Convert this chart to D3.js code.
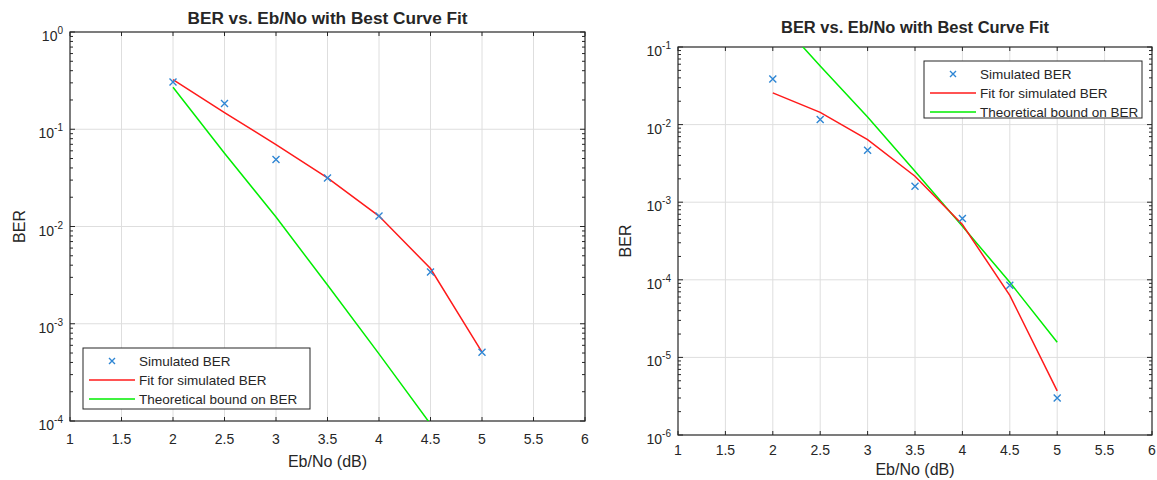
<!DOCTYPE html>
<html>
<head>
<meta charset="utf-8">
<script src="https://cdn.jsdelivr.net/npm/d3@7"></script>
<style>
  body { margin: 0; background: #fff; }
  svg text { font-family: "Liberation Sans", Arial, sans-serif; fill: #262626; }
</style>
</head>
<body>
<div id="chart"></div>
<script>
// data
var ebno = [2, 2.5, 3, 3.5, 4, 4.5, 5]
var xTicks = [1, 1.5, 2, 2.5, 3, 3.5, 4, 4.5, 5, 5.5, 6]

var leftSim = [0.306, 0.184, 0.0488, 0.0316, 0.0128, 0.0034, 0.00051]
var leftFit = [0.324, 0.148, 0.0696, 0.0316, 0.0128, 0.0037, 0.00051]
var theory  = [0.27, 0.0567, 0.0125, 0.0025, 0.00049, 0.000093, 0.0000157]
var rightSim = [0.0387, 0.0116, 0.00467, 0.00161, 0.000616, 0.000085, 0.000003]
var rightFit = [0.0256, 0.0144, 0.0064, 0.00216, 0.000515, 0.000063, 0.0000037]

var leftExps = [0, -1, -2, -3, -4]
var rightExps = [-1, -2, -3, -4, -5, -6]

var legendLabels = ["Simulated BER", "Fit for simulated BER", "Theoretical bound on BER"]

var svg = d3.select("#chart").append("svg")
    .attr("width", 1157)
    .attr("height", 480)

// one MATLAB-style axes box
function drawPanel(p) {
    var x = d3.scaleLinear().domain([1, 6]).range([p.left, p.right])
    var y = d3.scaleLog().domain([Math.pow(10, d3.min(p.exps)), Math.pow(10, d3.max(p.exps))])
        .range([p.bottom, p.top])
    var g = svg.append("g")

    // grid
    g.selectAll(".gx").data(xTicks.slice(1, -1)).enter().append("line")
        .attr("x1", d => x(d)).attr("x2", d => x(d))
        .attr("y1", p.top).attr("y2", p.bottom)
        .style("stroke", "#dedede").style("stroke-width", 1)
    g.selectAll(".gy").data(p.exps.slice(1, -1)).enter().append("line")
        .attr("x1", p.left).attr("x2", p.right)
        .attr("y1", d => y(Math.pow(10, d))).attr("y2", d => y(Math.pow(10, d)))
        .style("stroke", "#dedede").style("stroke-width", 1)

    // ticks (inside), x top and bottom
    xTicks.forEach(function(t) {
        g.append("line").attr("x1", x(t)).attr("x2", x(t))
            .attr("y1", p.bottom).attr("y2", p.bottom - 4).style("stroke", "#262626")
        g.append("line").attr("x1", x(t)).attr("x2", x(t))
            .attr("y1", p.top).attr("y2", p.top + 4).style("stroke", "#262626")
    })
    // y major + minor ticks, both sides
    var lo = d3.min(p.exps), hi = d3.max(p.exps)
    for (var e = lo; e <= hi; e++) {
        for (var m = 1; m <= 9; m++) {
            var v = m * Math.pow(10, e)
            if (v > Math.pow(10, hi) * 1.0001) continue
            var len = m == 1 ? 5 : 3
            g.append("line").attr("x1", p.left).attr("x2", p.left + len)
                .attr("y1", y(v)).attr("y2", y(v)).style("stroke", "#262626")
            g.append("line").attr("x1", p.right).attr("x2", p.right - len)
                .attr("y1", y(v)).attr("y2", y(v)).style("stroke", "#262626")
        }
    }

    // box
    g.append("rect")
        .attr("x", p.left).attr("y", p.top)
        .attr("width", p.right - p.left).attr("height", p.bottom - p.top)
        .style("fill", "none").style("stroke", "#262626").style("stroke-width", 1.2)

    // tick labels
    g.selectAll(".xl").data(xTicks).enter().append("text")
        .attr("x", d => x(d)).attr("y", p.bottom + p.tickDy)
        .style("text-anchor", "middle").style("font-size", "14px")
        .text(d => d)
    p.exps.forEach(function(e) {
        var t = g.append("text")
            .attr("x", p.left - 7).attr("y", y(Math.pow(10, e)) + 9)
            .style("text-anchor", "end").style("font-size", "14px")
        t.append("tspan").text("10")
        t.append("tspan").attr("dy", -7).style("font-size", "10px").text(e)
    })

    // labels
    g.append("text")
        .attr("x", (p.left + p.right) / 2).attr("y", p.titleY)
        .attr("textLength", p.titleLen).attr("lengthAdjust", "spacingAndGlyphs")
        .style("text-anchor", "middle").style("font-size", "16px").style("font-weight", "bold")
        .text("BER vs. Eb/No with Best Curve Fit")
    g.append("text")
        .attr("x", (p.left + p.right) / 2).attr("y", p.bottom + p.xlabDy)
        .style("text-anchor", "middle").style("font-size", "16px")
        .text("Eb/No (dB)")
    g.append("text")
        .attr("transform", `translate(${p.left - p.ylabDx},${(p.top + p.bottom) / 2}) rotate(-90)`)
        .style("text-anchor", "middle").style("font-size", "16px")
        .text("BER")

    // lines, clipped to the axes
    var clipId = "clip" + p.id
    svg.append("clipPath").attr("id", clipId).append("rect")
        .attr("x", p.left).attr("y", p.top)
        .attr("width", p.right - p.left).attr("height", p.bottom - p.top)
    var line = d3.line().x((d, i) => x(ebno[i])).y(d => y(d))
    var lines = g.append("g").attr("clip-path", `url(#${clipId})`)
    lines.append("path").datum(theory).attr("d", line)
        .style("fill", "none").style("stroke", "#00ee00").style("stroke-width", 1.5)
    lines.append("path").datum(p.fit).attr("d", line)
        .style("fill", "none").style("stroke", "#ff1a1a").style("stroke-width", 1.5)

    // simulated points
    var s = 3.5
    g.selectAll(".pt").data(p.sim).enter().append("path")
        .attr("d", (d, i) => `M${x(ebno[i]) - s},${y(d) - s}L${x(ebno[i]) + s},${y(d) + s}` +
                             `M${x(ebno[i]) - s},${y(d) + s}L${x(ebno[i]) + s},${y(d) - s}`)
        .style("stroke", "#2e86d4").style("stroke-width", 1.4)

    // legend
    var L = p.legend
    g.append("rect").attr("x", L.x).attr("y", L.y).attr("width", L.w).attr("height", L.h)
        .style("fill", "#fff").style("stroke", "#262626").style("stroke-width", 1)
    var colors = [null, "#ff1a1a", "#00ee00"]
    legendLabels.forEach(function(lab, i) {
        var cy = L.y + 13 + i * 19
        if (i == 0) {
            var mx = L.x + 29
            g.append("path")
                .attr("d", `M${mx - 3},${cy - 3}L${mx + 3},${cy + 3}M${mx - 3},${cy + 3}L${mx + 3},${cy - 3}`)
                .style("stroke", "#2e86d4").style("stroke-width", 1.4)
        } else {
            g.append("line").attr("x1", L.x + 6).attr("x2", L.x + 52)
                .attr("y1", cy).attr("y2", cy)
                .style("stroke", colors[i]).style("stroke-width", 1.5)
        }
        g.append("text").attr("x", L.x + 56).attr("y", cy + 5)
            .style("font-size", "13.5px").text(lab)
    })
}

drawPanel({id: "L", left: 70, right: 585, top: 32, bottom: 421, exps: leftExps,
    sim: leftSim, fit: leftFit, legend: {x: 83, y: 348, w: 227, h: 61},
    titleY: 24, titleLen: 280, tickDy: 23, xlabDy: 46, ylabDx: 45})
drawPanel({id: "R", left: 678, right: 1152, top: 47, bottom: 435, exps: rightExps,
    sim: rightSim, fit: rightFit, legend: {x: 924, y: 61, w: 218, h: 57},
    titleY: 33, titleLen: 268, tickDy: 20, xlabDy: 40, ylabDx: 47})
</script>
</body>
</html>
